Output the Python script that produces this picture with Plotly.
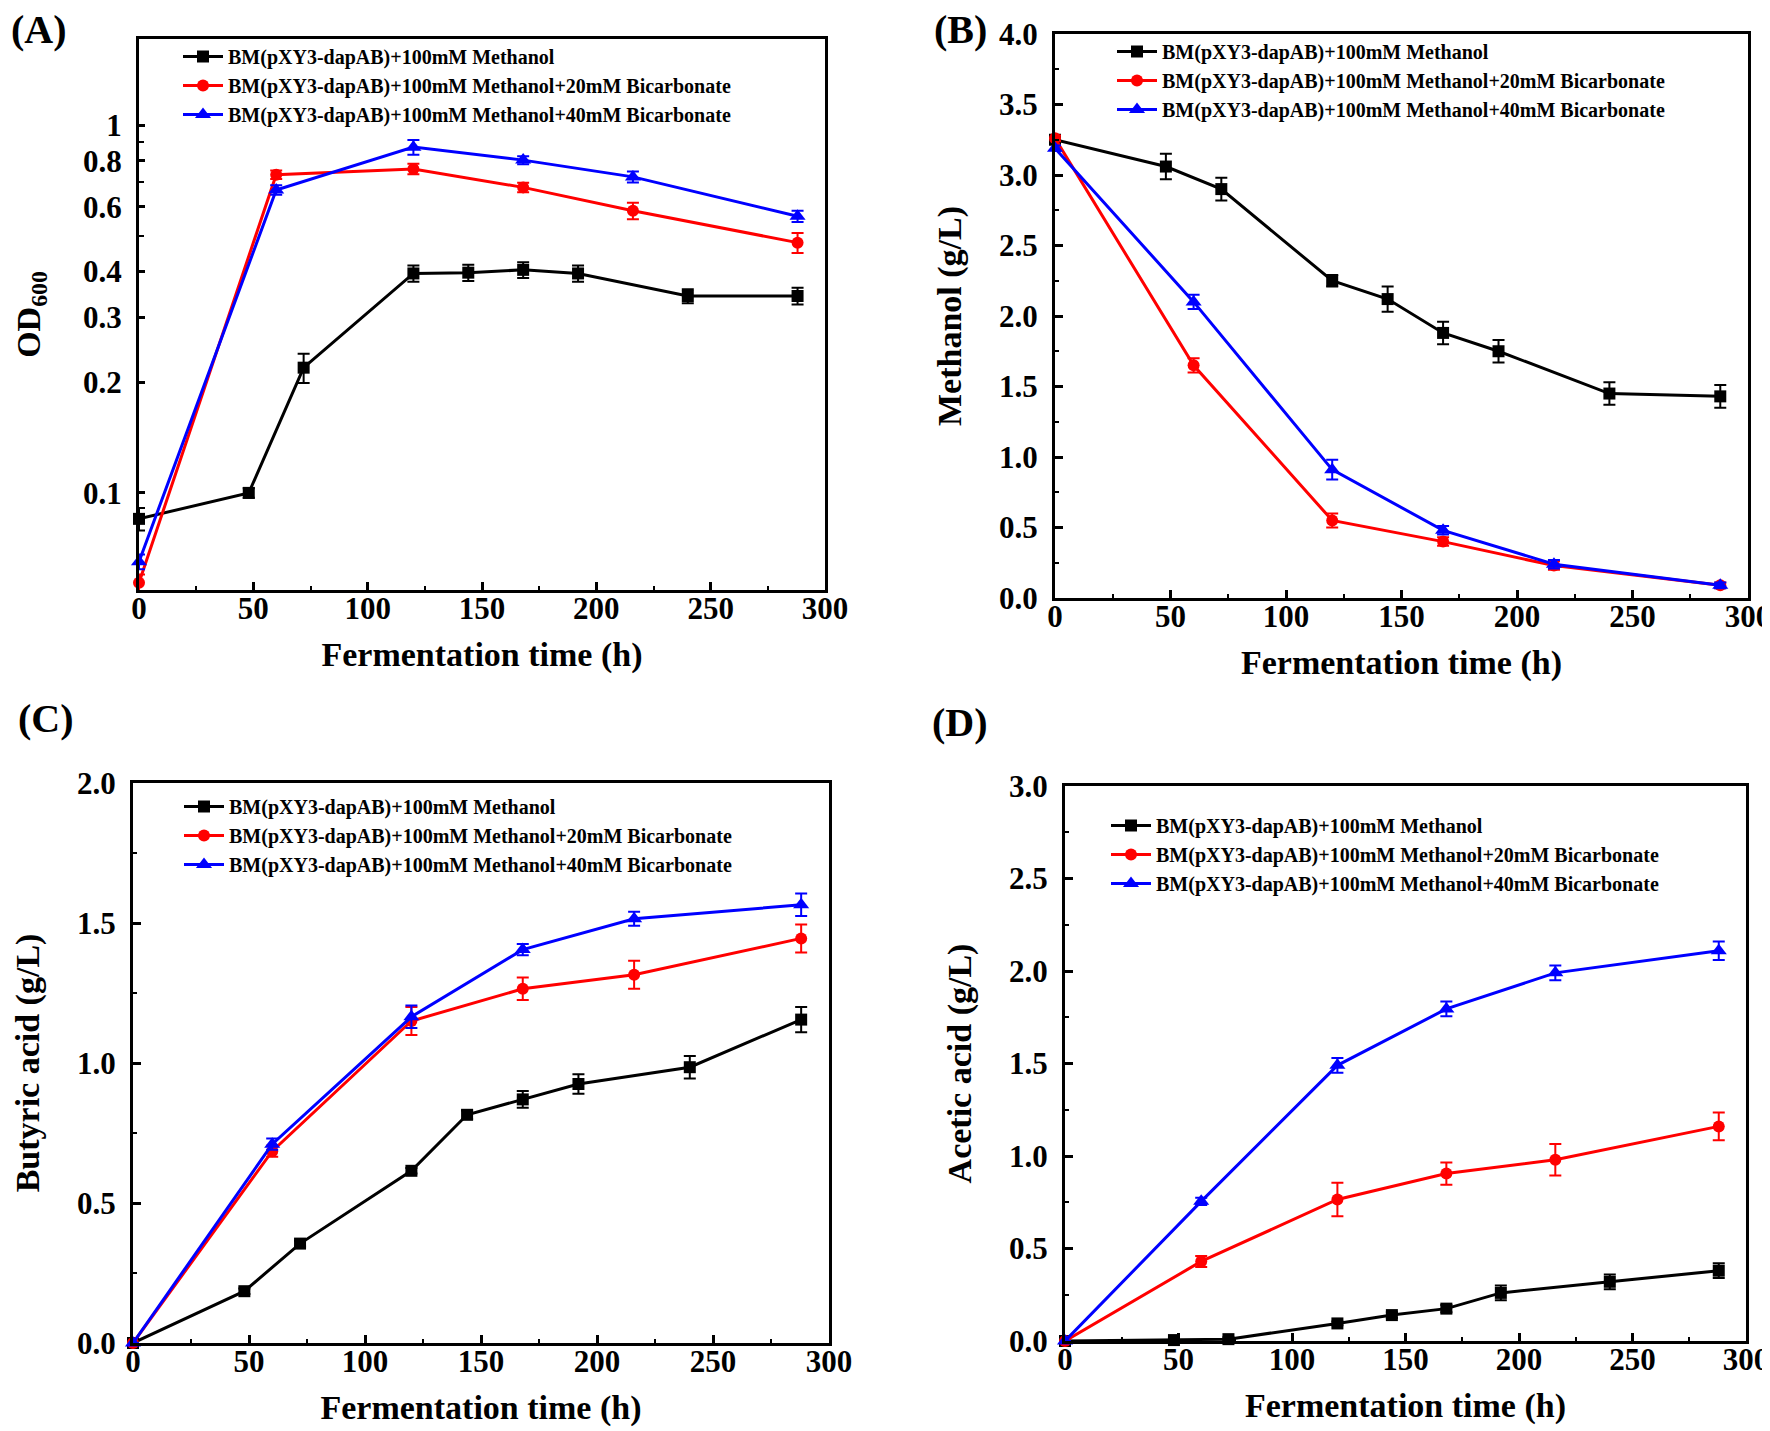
import plotly.graph_objects as go

W, H = 1770, 1431
FONT = "Liberation Serif, Times New Roman, serif"

# ---- data ------------------------------------------------------------------
t_ctrl = [0, 48, 72, 120, 144, 168, 192, 240, 288]
t_bic = [0, 60, 120, 168, 216, 288]

SERIES_NAMES = ["BM(pXY3-dapAB)+100mM Methanol",
                "BM(pXY3-dapAB)+100mM Methanol+20mM Bicarbonate",
                "BM(pXY3-dapAB)+100mM Methanol+40mM Bicarbonate"]

# (A) OD600
od_ctrl = [0.085, 0.100, 0.219, 0.395, 0.397, 0.404, 0.395, 0.343, 0.343]
od_ctrl_err = [0.006, 0.003, 0.02, 0.02, 0.02, 0.02, 0.02, 0.015, 0.018]
od_20 = [0.057, 0.733, 0.760, 0.677, 0.585, 0.479]
od_20_err = [0.003, 0.02, 0.025, 0.02, 0.03, 0.03]
od_40 = [0.065, 0.666, 0.871, 0.803, 0.723, 0.565]
od_40_err = [0.003, 0.02, 0.04, 0.02, 0.025, 0.02]

# (B) methanol g/L
meoh_ctrl = [3.25, 3.06, 2.90, 2.25, 2.12, 1.88, 1.75, 1.45, 1.43]
meoh_ctrl_err = [0.02, 0.09, 0.08, 0.04, 0.09, 0.08, 0.08, 0.08, 0.08]
meoh_20 = [3.26, 1.65, 0.55, 0.40, 0.23, 0.09]
meoh_20_err = [0.02, 0.05, 0.05, 0.03, 0.03, 0.02]
meoh_40 = [3.19, 2.10, 0.91, 0.48, 0.24, 0.09]
meoh_40_err = [0.02, 0.05, 0.07, 0.03, 0.03, 0.02]

# (C) butyric acid g/L
but_ctrl = [0, 0.185, 0.355, 0.615, 0.815, 0.87, 0.925, 0.985, 1.155]
but_ctrl_err = [0, 0.01, 0.01, 0.01, 0.015, 0.03, 0.035, 0.04, 0.045]
but_20 = [0, 0.685, 1.15, 1.265, 1.315, 1.445]
but_20_err = [0, 0.02, 0.05, 0.04, 0.05, 0.05]
but_40 = [0, 0.71, 1.165, 1.405, 1.515, 1.565]
but_40_err = [0, 0.02, 0.04, 0.02, 0.025, 0.04]

# (D) acetic acid g/L
ace_ctrl = [0, 0.005, 0.01, 0.095, 0.14, 0.175, 0.26, 0.32, 0.38]
ace_ctrl_err = [0, 0.01, 0.01, 0.01, 0.015, 0.02, 0.04, 0.04, 0.04]
ace_20 = [0, 0.43, 0.765, 0.905, 0.98, 1.16]
ace_20_err = [0, 0.03, 0.09, 0.06, 0.085, 0.075]
ace_40 = [0, 0.755, 1.49, 1.795, 1.99, 2.11]
ace_40_err = [0, 0.02, 0.04, 0.04, 0.04, 0.05]

COLORS = ["#000000", "#ff0000", "#0000ff"]
SYMBOLS = ["square", "circle", "triangle-up"]
SIZES = [12, 12, 14]

# plot boxes in pixels: (left, right, top, bottom)
BOXES = {
    "A": (131, 817, 31, 582),
    "B": (1047, 1740, 26, 590),
    "C": (125, 821, 775, 1335),
    "D": (1057, 1738, 778, 1333),
}
# legend anchor (px) for each panel
LEGEND_POS = {"A": (170, 29), "B": (1104, 24), "C": (171, 779), "D": (1098, 798)}
PANEL_LABEL_POS = {"A": (31, 21), "B": (952, 21), "C": (38, 710), "D": (952, 714)}

panels = [
    ("A", "OD<sub>600</sub>",
     [(t_ctrl, od_ctrl, od_ctrl_err), (t_bic, od_20, od_20_err), (t_bic, od_40, od_40_err)]),
    ("B", "Methanol (g/L)",
     [(t_ctrl, meoh_ctrl, meoh_ctrl_err), (t_bic, meoh_20, meoh_20_err), (t_bic, meoh_40, meoh_40_err)]),
    ("C", "Butyric acid (g/L)",
     [(t_ctrl, but_ctrl, but_ctrl_err), (t_bic, but_20, but_20_err), (t_bic, but_40, but_40_err)]),
    ("D", "Acetic acid (g/L)",
     [(t_ctrl, ace_ctrl, ace_ctrl_err), (t_bic, ace_20, ace_20_err), (t_bic, ace_40, ace_40_err)]),
]

fig = go.Figure()

axis_common = dict(
    showline=True, linewidth=3, linecolor="black", mirror=True,
    ticks="inside", ticklen=8, tickwidth=2.5, tickcolor="black",
    showgrid=False, zeroline=False, automargin=False,
    tickfont=dict(family=FONT, size=31, color="black", weight="bold"),
    title_font=dict(family=FONT, size=34, color="black", weight="bold"),
)

for k, (key, ytitle, series) in enumerate(panels):
    n = "" if k == 0 else str(k + 1)
    leg = "legend" if k == 0 else f"legend{k + 1}"
    for i, (t, y, e) in enumerate(series):
        fig.add_trace(go.Scatter(
            x=t, y=y, mode="lines+markers", name=SERIES_NAMES[i],
            xaxis=f"x{n}", yaxis=f"y{n}", legend=leg, cliponaxis=False,
            line=dict(color=COLORS[i], width=3),
            marker=dict(symbol=SYMBOLS[i], size=SIZES[i], color=COLORS[i]),
            error_y=dict(type="data", array=e, color=COLORS[i], thickness=2, width=6),
        ))

    l, r, t_, b = BOXES[key]
    xdom = [l / W, r / W]
    ydom = [1 - b / H, 1 - t_ / H]

    xa = dict(axis_common, domain=xdom, anchor=f"y{n}", range=[0, 300], dtick=50,
              ticklabelstandoff=-11,
              minor=dict(dtick=25, ticks="inside", ticklen=4, tickwidth=2, tickcolor="black"),
              title=dict(text="Fermentation time (h)", standoff=17))
    if key == "A":
        ya = dict(axis_common, domain=ydom, anchor=f"x{n}", type="log",
                  range=[-1.264, 0.234],
                  tickvals=[0.1, 0.2, 0.3, 0.4, 0.6, 0.8, 1],
                  ticktext=["0.1", "0.2", "0.3", "0.4", "0.6", "0.8", "1"],
                  ticklen=6, ticklabelstandoff=8,
                  minor=dict(tickvals=[0.5, 0.7, 0.9], ticks="inside", ticklen=5,
                             tickwidth=2, tickcolor="black"),
                  title=dict(text=ytitle, standoff=33))
    else:
        ymax = {"B": 4.0, "C": 2.0, "D": 3.0}[key]
        ya = dict(axis_common, domain=ydom, anchor=f"x{n}", range=[0, ymax],
                  dtick=0.5, tickformat=".1f", ticklabelstandoff=8,
                  minor=dict(dtick=0.25, ticks="inside", ticklen=4, tickwidth=2, tickcolor="black"),
                  title=dict(text=ytitle, standoff=28))
    fig.update_layout(**{f"xaxis{n}": xa, f"yaxis{n}": ya})

    lx, ly = LEGEND_POS[key]
    fig.update_layout(**{leg: dict(
        x=lx / W, y=1 - ly / H, xanchor="left", yanchor="top",
        bgcolor="rgba(0,0,0,0)", borderwidth=0,
        font=dict(family=FONT, size=20, color="black", weight="bold"),
        itemwidth=40, tracegroupgap=0,
    )})

    px_, py_ = PANEL_LABEL_POS[key]
    fig.add_annotation(x=px_ / W, y=1 - py_ / H, xref="paper", yref="paper",
                       xanchor="center", yanchor="middle",
                       text=f"({key})", showarrow=False,
                       font=dict(family=FONT, size=40, color="black", weight="bold"))

fig.update_layout(
    width=W, height=H, margin=dict(l=0, r=0, t=0, b=0),
    paper_bgcolor="white", plot_bgcolor="white", showlegend=True,
)

fig.write_html("out.html")
